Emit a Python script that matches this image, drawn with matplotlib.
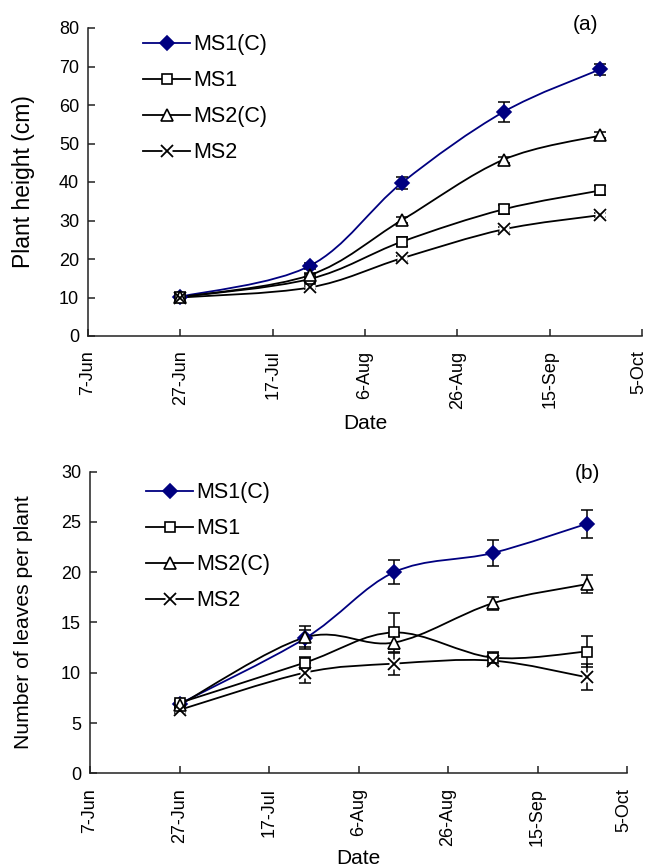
import numpy as np
import matplotlib
matplotlib.use("Agg")
import matplotlib.pyplot as plt
import matplotlib.dates as mdates
import matplotlib.transforms as mtransforms
from matplotlib.path import Path
from matplotlib.patches import PathPatch
from matplotlib.lines import Line2D
from matplotlib.legend_handler import HandlerTuple
import datetime as dt

plt.rcParams['font.family'] = ['Liberation Sans', 'DejaVu Sans']

# ---------------- data ----------------
sample_dates = ['2008-06-27', '2008-07-25', '2008-08-14', '2008-09-05', '2008-09-26']
tick_dates = ['2008-06-07', '2008-06-27', '2008-07-17', '2008-08-06',
              '2008-08-26', '2008-09-15', '2008-10-05']
series_names = ['MS1(C)', 'MS1', 'MS2(C)', 'MS2']

# (a) plant height (cm)
height_ms1c = [10.2, 18.2, 39.8, 58.2, 69.3]
height_ms1c_err = [0.3, 0.8, 1.5, 2.5, 1.4]
height_ms1 = [10.1, 14.8, 24.5, 32.9, 37.8]
height_ms1_err = [0.2, 0.6, 1.2, 1.2, 1.2]
height_ms2c = [10.1, 15.8, 30.1, 45.8, 52.1]
height_ms2c_err = [0.2, 0.6, 0.8, 0.8, 0.8]
height_ms2 = [10.0, 12.6, 20.2, 27.7, 31.4]
height_ms2_err = [0.2, 0.5, 0.6, 0.6, 0.5]

# (b) number of leaves per plant
leaves_ms1c = [6.9, 13.4, 20.0, 21.9, 24.8]
leaves_ms1c_err = [0.3, 0.8, 1.2, 1.25, 1.4]
leaves_ms1 = [7.0, 11.0, 14.0, 11.5, 12.1]
leaves_ms1_err = [0.3, 0.6, 1.9, 0.6, 1.55]
leaves_ms2c = [6.8, 13.5, 13.0, 16.9, 18.8]
leaves_ms2c_err = [0.3, 1.1, 0.6, 0.65, 0.9]
leaves_ms2 = [6.3, 10.0, 10.9, 11.2, 9.55]
leaves_ms2_err = [0.3, 1.0, 1.1, 0.4, 1.3]

# ---------------- helpers ----------------
BLUE = '#000080'
AXC = '#222222'


def to_num(ds):
    return mdates.date2num([dt.datetime.strptime(d, '%Y-%m-%d') for d in ds])


def smooth_path(xs, ys):
    pts = np.column_stack([xs, ys]).astype(float)
    n = len(pts)
    verts = [pts[0]]
    codes = [Path.MOVETO]
    for i in range(n - 1):
        p0 = pts[i - 1] if i > 0 else pts[i]
        p1 = pts[i]
        p2 = pts[i + 1]
        p3 = pts[i + 2] if i + 2 < n else pts[i + 1]
        c1 = p1 + (p2 - p0) / 6.0
        c2 = p2 - (p3 - p1) / 6.0
        verts += [c1, c2, p2]
        codes += [Path.CURVE4] * 3
    return Path(verts, codes)


styles = {
    'MS1(C)': dict(color=BLUE, marker='D', mfc=BLUE, mec=BLUE, ms=7),
    'MS1': dict(color='black', marker='s', mfc='white', mec='black', ms=7.5),
    'MS2(C)': dict(color='black', marker='^', mfc='white', mec='black', ms=9),
    'MS2': dict(color='black', marker='x', mfc='black', mec='black', ms=9),
}

x = to_num(sample_dates)
xt = to_num(tick_dates)


def draw_panel(ax, data, ylim, yticks, ylabel, ylabel_size, legend_anchor):
    handles = []
    for name, (vals, errs) in zip(series_names, data):
        st = styles[name]
        patch = PathPatch(smooth_path(x, vals), fill=False, edgecolor=st['color'],
                          lw=1.3, zorder=2, capstyle='round', joinstyle='round')
        ax.add_patch(patch)
        ax.errorbar(x, vals, yerr=errs, fmt='none', ecolor='black', elinewidth=1.1,
                    capsize=4.5, capthick=1.1, zorder=3)
        if name == 'MS2':
            ax.plot(x, vals, ls='none', marker='s', ms=7, mfc='white', mec='none', zorder=4)
            ax.plot(x, vals, ls='none', marker='x', ms=st['ms'], mec='black', mew=1.3, zorder=5)
            h = (Line2D([], [], color='black', lw=1.3),
                 Line2D([], [], ls='none', marker='s', ms=7, mfc='white', mec='none'),
                 Line2D([], [], ls='none', marker='x', ms=st['ms'], mec='black', mew=1.3))
        else:
            ax.plot(x, vals, ls='none', marker=st['marker'], ms=st['ms'], mfc=st['mfc'],
                    mec=st['mec'], mew=1.2, zorder=5)
            h = Line2D([], [], color=st['color'], lw=1.3, marker=st['marker'], ms=st['ms'],
                       mfc=st['mfc'], mec=st['mec'], mew=1.2)
        handles.append(h)

    ax.set_xlim(xt[0], xt[-1])
    ax.set_ylim(*ylim)
    ax.set_xticks(xt)
    ax.set_xticklabels([f"{dt.datetime.strptime(d, '%Y-%m-%d').day}-"
                        f"{dt.datetime.strptime(d, '%Y-%m-%d').strftime('%b')}"
                        for d in tick_dates], rotation=90)
    ax.set_yticks(yticks)
    for s in ['top', 'right']:
        ax.spines[s].set_visible(False)
    for s in ['left', 'bottom']:
        ax.spines[s].set_color(AXC)
        ax.spines[s].set_linewidth(1.1)
    ax.tick_params(axis='both', direction='in', length=5, width=1.1, color=AXC,
                   labelsize=13, labelcolor='black')
    ax.tick_params(axis='x', pad=10.5)
    ax.tick_params(axis='y', pad=6.5)
    ax.set_ylabel(ylabel, fontsize=ylabel_size)
    ax.set_xlabel('Date', fontsize=15)

    ax.legend(handles, series_names, loc='upper left', bbox_to_anchor=legend_anchor,
              frameon=False, fontsize=15.5, handlelength=2.2, handletextpad=0.12,
              labelspacing=0.7, borderpad=0, borderaxespad=0,
              handler_map={tuple: HandlerTuple(ndivide=1)})
    # nudge last x tick label slightly left so it stays inside the figure
    lbl = ax.get_xticklabels()[-1]
    lbl.set_transform(lbl.get_transform() +
                      mtransforms.ScaledTranslation(-3 / 100, 0, ax.figure.dpi_scale_trans))
    return ax


fig = plt.figure(figsize=(6.48, 8.67), dpi=100)
W, H = 648.0, 867.0

# panel (a): axes px left 88, right 642, top 28, bottom 336
ax1 = fig.add_axes([88 / W, 1 - 336 / H, (642 - 88) / W, (336 - 28) / H])
draw_panel(ax1,
           [(height_ms1c, height_ms1c_err), (height_ms1, height_ms1_err),
            (height_ms2c, height_ms2c_err), (height_ms2, height_ms2_err)],
           (0, 80), np.arange(0, 81, 10), 'Plant height (cm)', 16.5, (0.099, 0.98))
ax1.yaxis.set_label_coords((24 - 88) / 554, 0.5)
ax1.xaxis.set_label_coords(0.5, (336 - 414) / 308)
ax1.text((585 - 88) / 554, (336 - 25) / 308, '(a)', transform=ax1.transAxes,
         fontsize=15, ha='center', va='center')

# panel (b): axes px left 90, right 627, top 471.5, bottom 773.3
ax2 = fig.add_axes([90 / W, 1 - 773.3 / H, (627 - 90) / W, (773.3 - 471.5) / H])
draw_panel(ax2,
           [(leaves_ms1c, leaves_ms1c_err), (leaves_ms1, leaves_ms1_err),
            (leaves_ms2c, leaves_ms2c_err), (leaves_ms2, leaves_ms2_err)],
           (0, 30), np.arange(0, 31, 5), 'Number of leaves per plant', 15.2, (0.104, 0.965))
ax2.yaxis.set_label_coords((24 - 90) / 537, 0.5)
ax2.xaxis.set_label_coords(0.5, (773.3 - 849) / 301.8)
ax2.text((587 - 90) / 537, (773.3 - 473) / 301.8, '(b)', transform=ax2.transAxes,
         fontsize=15, ha='center', va='center')

for ax in (ax1, ax2):
    ax.yaxis.label.set_va('center')
    ax.xaxis.label.set_va('top')

fig.savefig('out.png', dpi=100)
